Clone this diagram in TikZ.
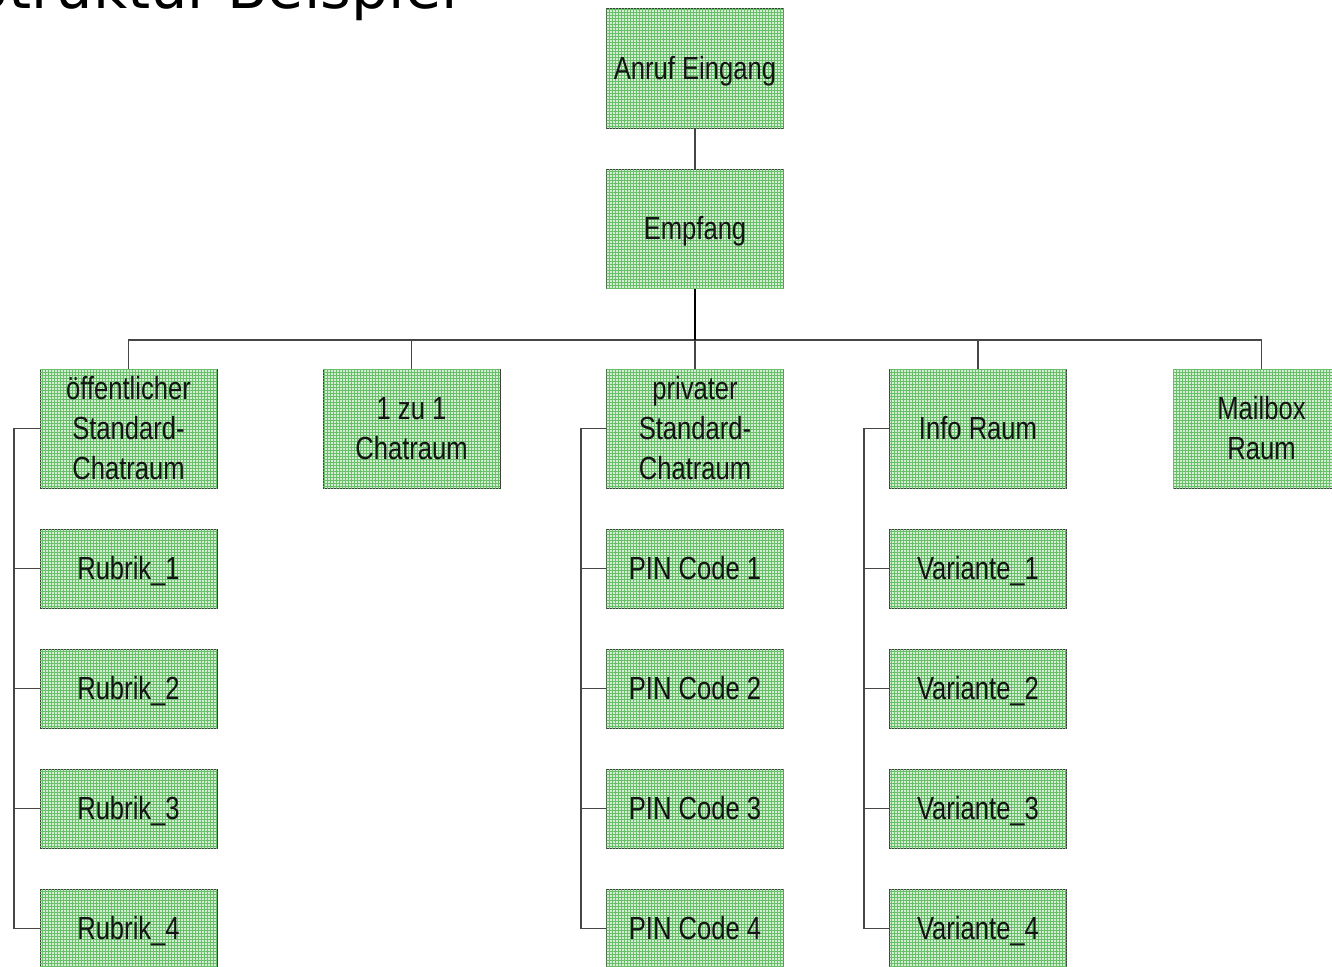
\documentclass[tikz,border=0pt]{standalone}
\usepackage{fontspec}
\usetikzlibrary{patterns}
\newfontfamily\boxfont[FakeStretch=0.8]{Liberation Sans}
\newfontfamily\titlefont{DejaVu Sans}
\definecolor{boxbg}{RGB}{212,238,212}
\definecolor{gridgreen}{RGB}{105,190,105}
\definecolor{boxborder}{RGB}{60,60,60}
\definecolor{connc}{RGB}{70,70,70}
\definecolor{txt}{RGB}{20,20,20}
\tikzset{
  box/.style={draw=boxborder, line width=1pt, fill=boxbg,
    postaction={pattern=grid, pattern color=gridgreen},
    minimum width=177pt, inner sep=0pt, align=center, text=txt,
    font=\boxfont\fontsize{32}{40}\selectfont},
  bigbox/.style={box, minimum height=119pt},
  oneline/.style={text height=23pt, text depth=2pt},
  smallbox/.style={box, oneline, minimum height=79pt},
  conn/.style={draw=connc, line width=1.2pt},
  trunk/.style={draw=black, line width=2pt}
}
\begin{document}
\begin{tikzpicture}[x=1pt,y=-1pt]
\useasboundingbox (0,0) rectangle (1332,966);
\clip (0,0) rectangle (1332,966);
\fill[white] (0,0) rectangle (1332,966);
% title (partly outside the page, as in the reference)
\node[anchor=base east, inner sep=0pt, font=\titlefont\fontsize{59}{70}\selectfont] (title) at (458,9) {Struktur-Beispiel};
% top
\node[bigbox, oneline] (anruf) at (695,68.5) {Anruf Eingang};
\node[bigbox, oneline] (empf) at (695,228.5) {Empfang};
% row 1
\node[bigbox] (oeff) at (128.5,428.5) {öffentlicher\\Standard-\\Chatraum};
\node[bigbox] (eins) at (411.5,428.5) {1 zu 1\\Chatraum};
\node[bigbox] (priv) at (695,428.5) {privater\\Standard-\\Chatraum};
\node[bigbox, oneline] (info) at (978,428.5) {Info Raum};
\node[bigbox] (mail) at (1261.5,428.5) {Mailbox\\Raum};
% children
\foreach \i/\y in {1/568.5,2/688.5,3/808.5,4/928.5}{
  \node[smallbox] (r\i) at (128.5,\y) {Rubrik\_\i};
  \node[smallbox] (p\i) at (695,\y) {PIN Code \i};
  \node[smallbox] (v\i) at (978,\y) {Variante\_\i};
}
% connectors
\coordinate (bus) at (695,340);
\draw[conn] (anruf.south) -- (empf.north);
\draw[conn] (oeff.north) |- (bus) -| (mail.north);
\draw[conn] (eins.north) -- (eins.north |- bus);
\draw[conn] (priv.north) -- (bus);
\draw[conn] (info.north) -- (info.north |- bus);
\draw[trunk] (empf.south) -- (bus);
\coordinate (lb1) at (14,428.5);
\coordinate (lb2) at (581,428.5);
\coordinate (lb3) at (864,428.5);
\draw[conn] (oeff.west) -- (lb1) |- (r4.west);
\draw[conn] (priv.west) -- (lb2) |- (p4.west);
\draw[conn] (info.west) -- (lb3) |- (v4.west);
\foreach \i in {1,2,3}{
  \draw[conn] (r\i.west) -- (r\i.west -| lb1);
  \draw[conn] (p\i.west) -- (p\i.west -| lb2);
  \draw[conn] (v\i.west) -- (v\i.west -| lb3);
}
\end{tikzpicture}
\end{document}
